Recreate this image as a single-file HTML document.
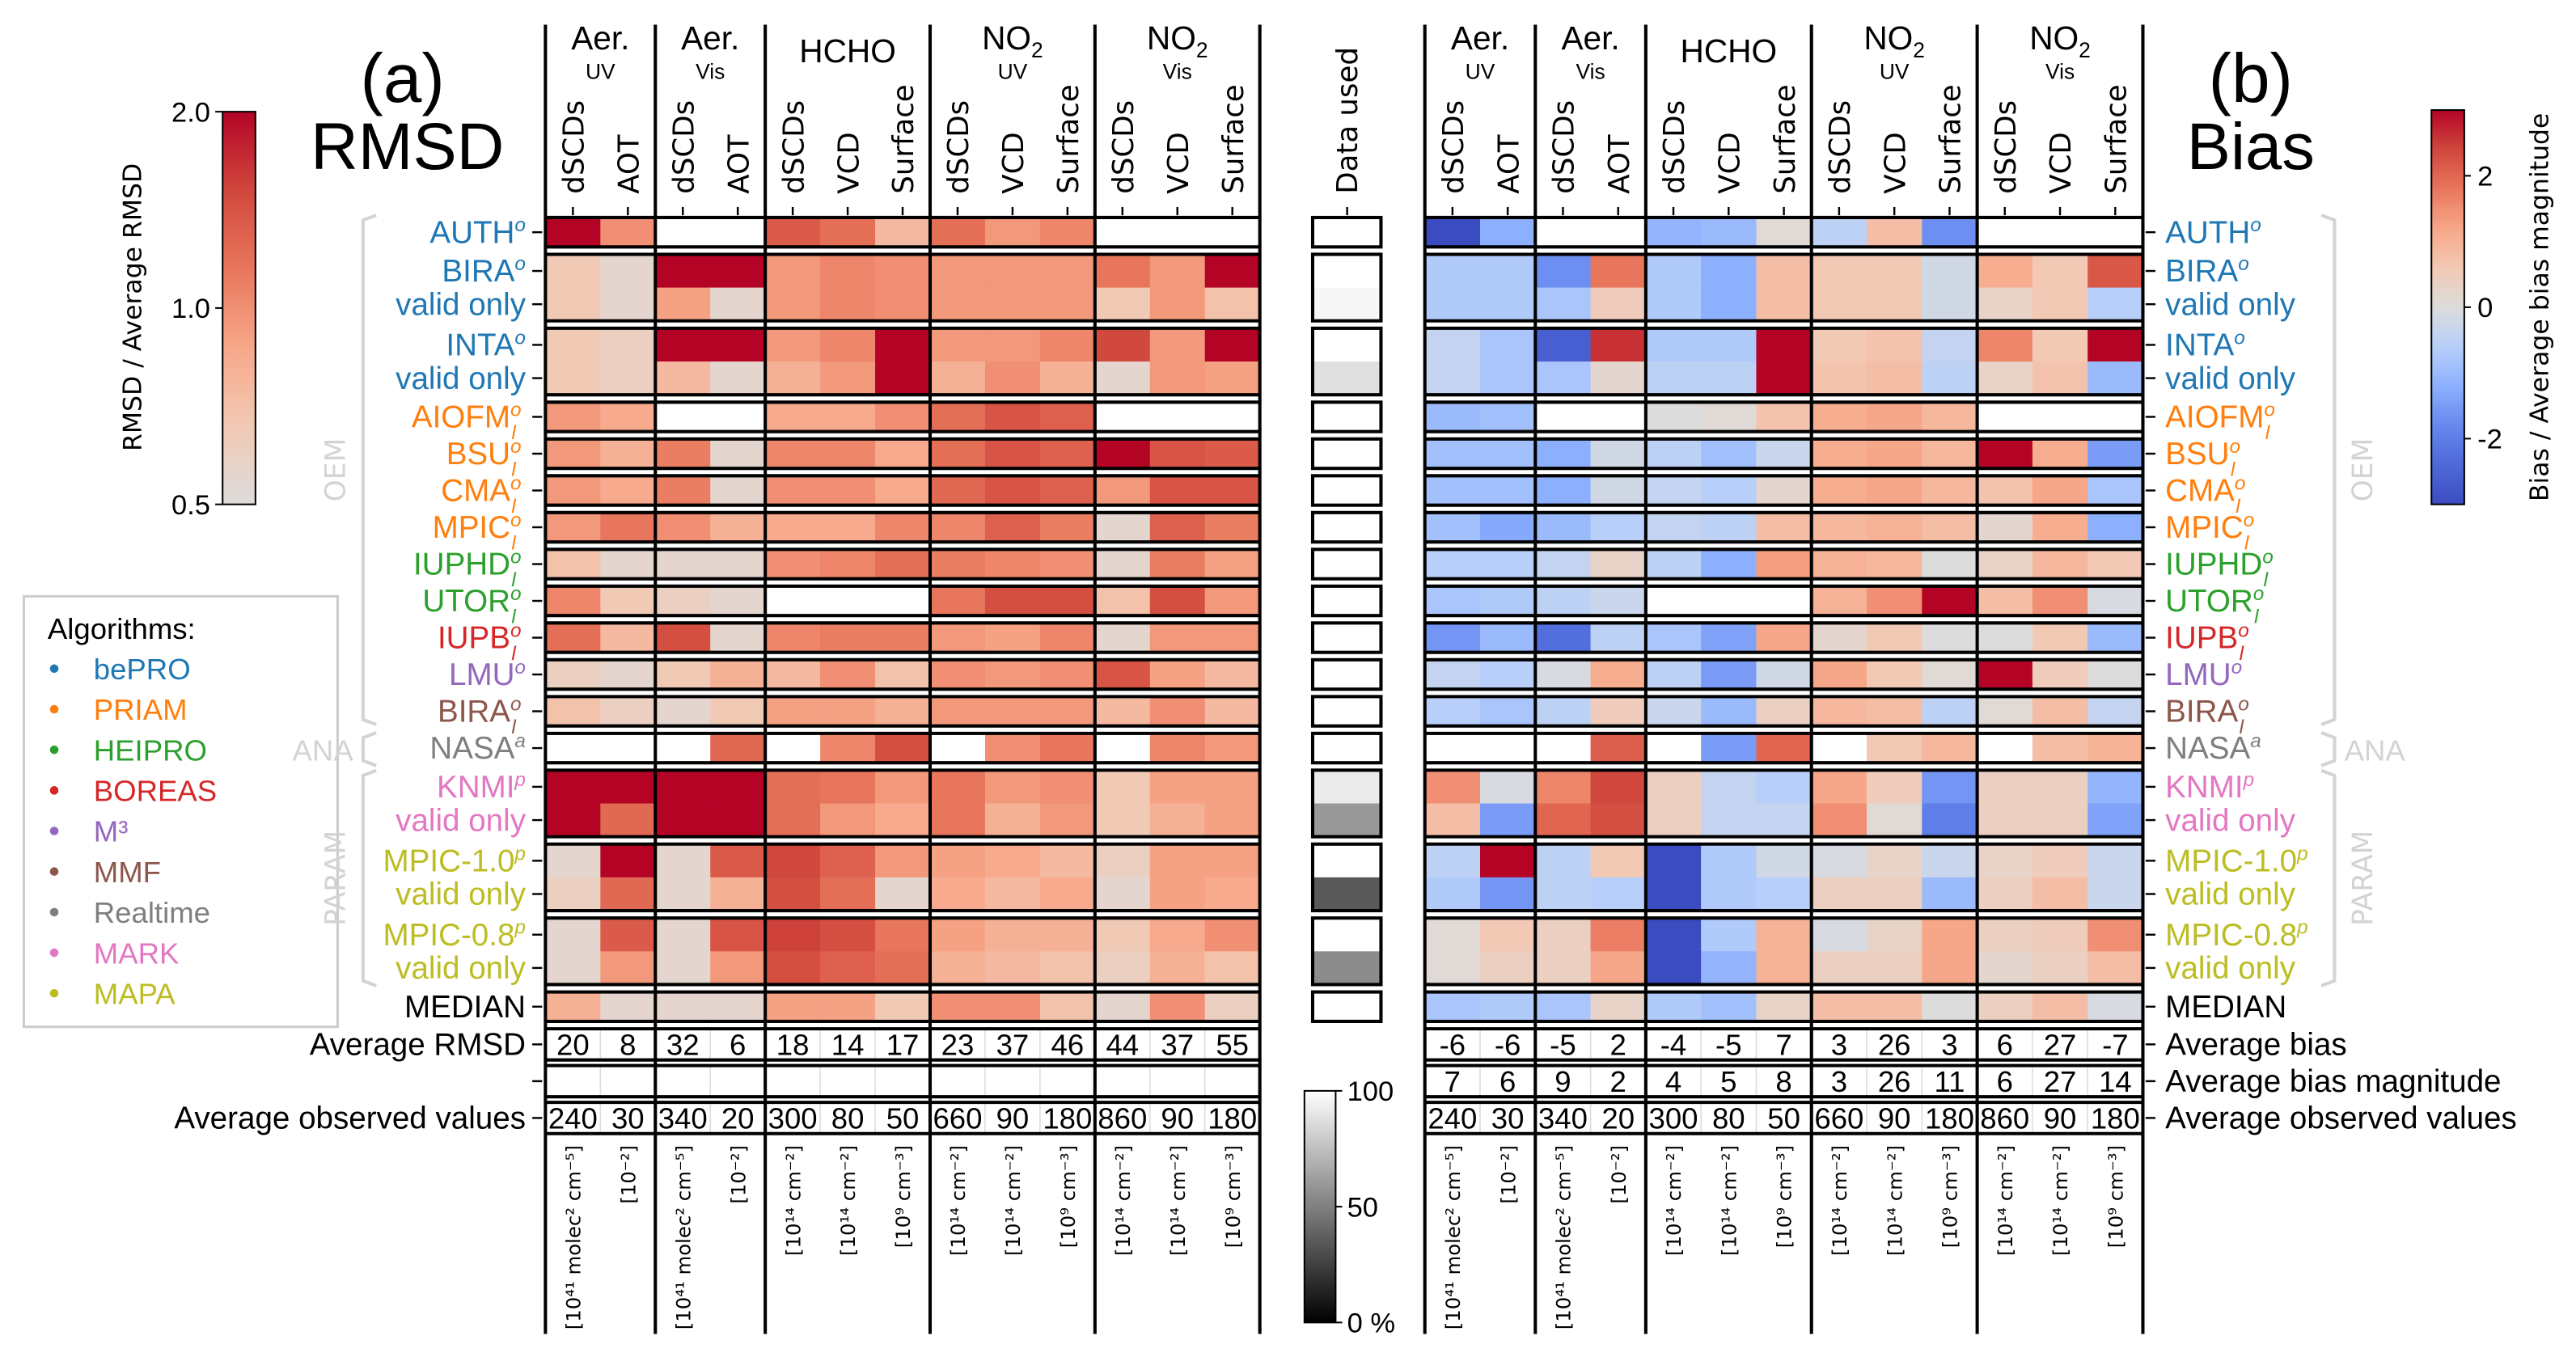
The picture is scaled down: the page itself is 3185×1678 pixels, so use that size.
<!DOCTYPE html>
<html><head><meta charset="utf-8"><style>
html,body{margin:0;padding:0;background:#fff;}
svg{display:block;}
text{font-family:"Liberation Sans Narrow","Liberation Sans",sans-serif;}
.dj{font-family:"DejaVu Sans","Liberation Sans",sans-serif;}
</style></head><body>
<svg id="chart" width="3185" height="1678" viewBox="0 0 1568 826" preserveAspectRatio="none" xmlns="http://www.w3.org/2000/svg"></svg>
<script>
// ---- data ----
const columns = ['dSCDs','AOT','dSCDs','AOT','dSCDs','VCD','Surface','dSCDs','VCD','Surface','dSCDs','VCD','Surface'];
const groupNames = ['Aer.','Aer.','HCHO','NO2','NO2'];
const groupSubs = ['UV','Vis','','UV','Vis'];
const groupStarts = [0,2,4,7,10,13];
const units = ['[10⁴¹ molec² cm⁻⁵]','[10⁻²]','[10⁴¹ molec² cm⁻⁵]','[10⁻²]','[10¹⁴ cm⁻²]','[10¹⁴ cm⁻²]','[10⁹ cm⁻³]','[10¹⁴ cm⁻²]','[10¹⁴ cm⁻²]','[10⁹ cm⁻³]','[10¹⁴ cm⁻²]','[10¹⁴ cm⁻²]','[10⁹ cm⁻³]'];
const rowNames = ['AUTH','BIRA','valid only','INTA','valid only','AIOFM','BSU','CMA','MPIC','IUPHD','UTOR','IUPB','LMU','BIRA','NASA','KNMI','valid only','MPIC-1.0','valid only','MPIC-0.8','valid only','MEDIAN'];
const rowSup = ['o','o','','o','','o','o','o','o','o','o','o','o','o','a','p','','p','','p','',''];
const rowSub = ['','','','','','l','l','l','l','l','l','l','','l','','','','','','','',''];
const rowColors = ['#1f77b4','#1f77b4','#1f77b4','#1f77b4','#1f77b4','#ff7f0e','#ff7f0e','#ff7f0e','#ff7f0e','#2ca02c','#2ca02c','#d62728','#9467bd','#8c564b','#7f7f7f','#e377c2','#e377c2','#bcbd22','#bcbd22','#bcbd22','#bcbd22','#000000'];
const blockSizes = [1,2,2,1,1,1,1,1,1,1,1,1,1,2,2,2,1];
const N = null;
const rmsd = [
[2.0,1.0,N,N,1.35,1.2,0.75,1.2,0.95,1.05,N,N,N],
[0.65,0.55,2,2,0.95,1.05,1.0,0.95,0.95,0.95,1.15,0.95,2],
[0.65,0.55,0.9,0.55,0.95,1.05,1.0,0.95,0.95,0.95,0.65,0.95,0.7],
[0.65,0.6,2,2,0.95,1.05,2,0.95,0.95,1.05,1.5,0.95,2],
[0.65,0.6,0.75,0.55,0.8,0.95,2,0.8,1.0,0.8,0.55,0.95,0.9],
[0.95,0.85,N,N,0.85,0.85,1.0,1.2,1.4,1.3,N,N,N],
[0.95,0.8,1.1,0.55,1.05,1.05,0.85,1.2,1.4,1.3,2,1.4,1.35],
[0.95,0.85,1.1,0.55,1.0,1.0,0.85,1.25,1.4,1.3,0.95,1.4,1.4],
[0.95,1.15,1.0,0.8,0.85,0.85,1.05,1.05,1.3,1.1,0.55,1.3,1.1],
[0.7,0.55,0.55,0.55,1.0,1.05,1.2,1.1,1.05,1.0,0.55,1.1,0.9],
[1.05,0.65,0.6,0.55,N,N,N,1.15,1.45,1.45,0.7,1.45,0.95],
[1.2,0.75,1.45,0.55,1.05,1.1,1.1,0.95,0.9,1.05,0.55,0.95,0.95],
[0.6,0.55,0.65,0.8,0.75,1.0,0.7,1.0,0.95,1.0,1.4,0.9,0.75],
[0.7,0.6,0.55,0.65,0.9,0.9,0.8,0.95,0.95,0.95,0.75,1.0,0.75],
[N,N,N,1.25,N,1.05,1.45,N,1.0,1.15,N,1.05,0.95],
[2,2,2,2,1.2,1.15,0.95,1.15,0.95,1.0,0.65,0.9,0.9],
[2,1.25,2,2,1.2,0.95,0.85,1.15,0.8,0.95,0.65,0.8,0.9],
[0.55,2,0.55,1.35,1.5,1.3,0.95,0.9,0.85,0.75,0.6,0.9,0.9],
[0.6,1.25,0.55,0.8,1.45,1.2,0.55,0.85,0.75,0.85,0.55,0.9,0.85],
[0.55,1.35,0.55,1.4,1.55,1.45,1.15,0.9,0.8,0.8,0.65,0.85,1.0],
[0.55,0.95,0.55,0.95,1.45,1.3,1.2,0.8,0.75,0.7,0.6,0.8,0.7],
[0.8,0.55,0.55,0.55,0.9,0.9,0.65,1.0,1.0,0.7,0.55,1.0,0.6]];
const bias = [
[-3,-1.2,N,N,-1.1,-1.0,0.1,-0.5,0.8,-1.7,N,N,N],
[-0.7,-0.7,-1.7,1.8,-0.7,-1.2,0.8,0.6,0.6,-0.2,1.1,0.6,2.2],
[-0.7,-0.7,-0.8,0.5,-0.7,-1.2,0.8,0.6,0.6,-0.2,0.3,0.6,-0.6],
[-0.4,-0.8,-2.6,2.6,-0.7,-0.7,3,0.6,0.7,-0.4,1.6,0.6,3],
[-0.4,-0.8,-0.8,0.2,-0.5,-0.5,3,0.7,0.8,-0.5,0.3,0.7,-1.0],
[-1.0,-0.9,N,N,0,0.1,0.7,1.1,1.2,0.9,N,N,N],
[-0.9,-0.9,-1.2,-0.2,-0.5,-0.9,-0.3,1.1,1.2,0.9,3,1.1,-1.5],
[-0.9,-0.9,-1.2,-0.2,-0.4,-0.6,0.2,1.1,1.2,0.9,0.7,1.2,-0.8],
[-0.9,-1.3,-1.0,-0.6,-0.4,-0.5,0.8,0.9,1.0,0.8,0.2,1.1,-1.2],
[-0.6,-0.6,-0.4,0.3,-0.5,-1.2,1.3,1.0,0.9,0,0.3,0.9,0.6],
[-0.8,-0.7,-0.5,-0.3,N,N,N,1.0,1.5,3,0.8,1.5,-0.1],
[-1.6,-1.0,-2.3,-0.5,-0.8,-1.4,1.2,0.2,0.6,0,0,0.6,-1.0],
[-0.4,-0.6,-0.1,1.1,-0.5,-1.5,-0.2,1.2,0.6,0.1,3,0.5,0],
[-0.6,-0.8,-0.5,0.5,-0.3,-1.0,0.4,0.9,0.8,-0.5,0.1,0.8,-0.4],
[N,N,N,2.1,N,-1.5,2.0,N,0.6,0.9,N,0.8,1.0],
[1.5,-0.1,1.6,2.4,0.4,-0.4,-0.6,1.2,0.5,-1.6,0.4,0.4,-1.1],
[0.8,-1.5,2.0,2.3,0.4,-0.4,-0.4,1.5,0.1,-2.0,0.4,0.4,-1.4],
[-0.5,3,-0.5,0.6,-3,-0.7,-0.2,-0.1,0.3,-0.3,0.3,0.5,-0.3],
[-0.7,-1.6,-0.5,-0.6,-3,-0.7,-0.6,0.4,0.4,-1.0,0.4,0.8,-0.3],
[0.1,0.6,0.4,1.7,-3,-0.7,1.0,-0.1,0.3,1.2,0.4,0.5,1.5],
[0.1,0.4,0.4,1.2,-3,-1.1,1.0,0.4,0.4,1.2,0.2,0.4,0.8],
[-0.8,-0.7,-0.8,0.3,-0.7,-0.9,0.3,0.8,0.8,0,0.4,0.8,-0.1]];
const dataUsed = [100,100,97,100,88,100,100,100,100,100,100,100,100,100,100,92,60,100,35,100,55,100];
const avgRmsd = [20,8,32,6,18,14,17,23,37,46,44,37,55];
const avgBias = [-6,-6,-5,2,-4,-5,7,3,26,3,6,27,-7];
const avgBiasMag = [7,6,9,2,4,5,8,3,26,11,6,27,14];
const avgObs = [240,30,340,20,300,80,50,660,90,180,860,90,180];
const legendNames = ['bePRO','PRIAM','HEIPRO','BOREAS','M³','MMF','Realtime','MARK','MAPA'];
const legendColors = ['#1f77b4','#ff7f0e','#2ca02c','#d62728','#9467bd','#8c564b','#7f7f7f','#e377c2','#bcbd22'];

// ---- helpers ----
const svg = document.getElementById('chart');
const NS = 'http://www.w3.org/2000/svg';
function mk(tag, attrs, parent){const e=document.createElementNS(NS,tag);for(const k in attrs)e.setAttribute(k,attrs[k]);(parent||svg).appendChild(e);return e;}
const stops=[[0,[59,76,192]],[0.1,[79,105,217]],[0.2,[103,136,238]],[0.3,[141,176,254]],[0.4,[183,207,249]],[0.5,[221,220,220]],[0.6,[242,201,180]],[0.7,[247,167,137]],[0.8,[232,118,92]],[0.9,[208,71,61]],[1,[180,4,38]]];
function cw(t){t=Math.max(0,Math.min(1,t));for(let i=1;i<stops.length;i++){if(t<=stops[i][0]){const a=stops[i-1],b=stops[i],f=(t-a[0])/(b[0]-a[0]);return 'rgb('+a[1].map((v,j)=>Math.round(v+(b[1][j]-v)*f)).join(',')+')';}}return 'rgb(180,4,38)';}
function rmsdColor(v){const t=(Math.log2(v)+1)/2;return cw(0.5+0.5*t);}
function biasColor(v){return cw((v+3)/6);}
const colW=33.45, colWR=33.62;
const leftX0=332, rightX0=867.3;
// block layout
const rowY=[],rowH=[],blockTop=[],blockH=[];
{let y=132.4;for(const s of blockSizes){const h=s===1?17.9:40.5;blockTop.push(y);blockH.push(h);for(let k=0;k<s;k++){rowY.push(y+k*(h/s));rowH.push(h/s);}y+=h+4.5;}}
const statTops=[626.2,648.6,671];

function drawPanel(x0, cw_, values, colorFn, name){
  const x=i=>x0+i*cw_;
  const g=mk('g',{});
  
  
  for(let r=0;r<values.length;r++){
    for(let c=0;c<13;c++){
      const v=values[r][c];
      const rc=mk('rect',{x:x(c),y:rowY[r],width:cw_+0.4,height:rowH[r]+0.3,fill:v===null?'#ffffff':colorFn(v)},g);
      
      
    }
  }
  for(let b=0;b<blockTop.length;b++){
    mk('line',{x1:x0,x2:x(13),y1:blockTop[b],y2:blockTop[b],stroke:'#000','stroke-width':2},g);
    mk('line',{x1:x0,x2:x(13),y1:blockTop[b]+blockH[b],y2:blockTop[b]+blockH[b],stroke:'#000','stroke-width':2},g);
  }
  const statSets = name==='rmsd'?[avgRmsd,null,avgObs]:[avgBias,avgBiasMag,avgObs];
  statSets.forEach((arr,k)=>{
    const y=statTops[k];
    for(let c=1;c<13;c++) mk('line',{x1:x(c),x2:x(c),y1:y,y2:y+19,stroke:'#ddd','stroke-width':0.8},g);
    mk('line',{x1:x0,x2:x(13),y1:y,y2:y,stroke:'#000','stroke-width':2},g);
    mk('line',{x1:x0,x2:x(13),y1:y+19,y2:y+19,stroke:'#000','stroke-width':2},g);
    if(arr) arr.forEach((v,c)=>{
      const t=mk('text',{x:x(c)+cw_/2,y:y+16,'text-anchor':'middle','font-size':18,fill:'#000'},g);
      t.textContent=v;
      
      
    });
  });
  groupStarts.forEach(gs=>mk('line',{x1:x(gs),x2:x(gs),y1:15,y2:812,stroke:'#000','stroke-width':2},g));
  for(let k=0;k<5;k++){
    const cx=(x(groupStarts[k])+x(groupStarts[k+1]))/2;
    const isNO2=groupNames[k]==='NO2';
    const t=mk('text',{x:cx,y:groupSubs[k]?30:38,'text-anchor':'middle','font-size':20,fill:'#000'},g);
    
    
    if(isNO2){t.textContent='NO';const s=mk('tspan',{'font-size':13,dy:5},t);s.textContent='2';}
    else t.textContent=groupNames[k];
    if(groupSubs[k]){const s=mk('text',{x:cx,y:48,'text-anchor':'middle','font-size':13,fill:'#000'},g);s.textContent=groupSubs[k];
      
      }
  }
  columns.forEach((cname,c)=>{
    const cx=x(c)+cw_/2;
    const t=mk('text',{class:'dj',x:0,y:0,'font-size':17.5,transform:`translate(${cx+6.5},118) rotate(-90)`,fill:'#000'},g);
    t.textContent=cname;
    
    
    mk('line',{x1:cx,x2:cx,y1:126,y2:131,stroke:'#000','stroke-width':1.2},g);
    const u=mk('text',{class:'dj',x:0,y:0,'font-size':12,'text-anchor':'end',transform:`translate(${cx+4.5},697) rotate(-90)`,fill:'#000'},g);
    u.textContent=units[c];
    
    
  });
}
drawPanel(leftX0,colW,rmsd,rmsdColor,'rmsd');
drawPanel(rightX0,colWR,bias,biasColor,'bias');

function rowLabel(xEdge, anchorRight, r){
  const cy=rowY[r]+rowH[r]/2+6.5;
  const t=mk('text',{x:0,y:cy,'font-size':19,fill:rowColors[r]});
  
  
  t.textContent=rowNames[r];
  if(rowSup[r]){const s=mk('tspan',{'font-size':12,dy:-7,'font-style':'italic'},t);s.textContent=rowSup[r];}
  if(rowSub[r]){const s=mk('tspan',{'font-size':12,dx:-6,dy:14,'font-style':'italic'},t);s.textContent=rowSub[r];}
  const w=t.getComputedTextLength();
  t.setAttribute('x', anchorRight? xEdge-w : xEdge);
  const tx=anchorRight?xEdge+4:xEdge-12;
  mk('line',{x1:tx,x2:tx+6,y1:rowY[r]+rowH[r]/2,y2:rowY[r]+rowH[r]/2,stroke:'#000','stroke-width':1.2});
}
for(let r=0;r<rowNames.length;r++){rowLabel(320,true,r);rowLabel(1318,false,r);}
[['Average RMSD','Average bias'],['','Average bias magnitude'],['Average observed values','Average observed values']].forEach((p,k)=>{
  const cy=statTops[k]+9.5;
  const a=mk('text',{x:320,y:cy+6.5,'text-anchor':'end','font-size':19,fill:'#000'});a.textContent=p[0];
  
  
  mk('line',{x1:324,x2:330,y1:cy,y2:cy,stroke:'#000','stroke-width':1.2});
  const b=mk('text',{x:1318,y:cy+6.5,'font-size':19,fill:'#000'});b.textContent=p[1];
  
  
  mk('line',{x1:1306,x2:1312,y1:cy,y2:cy,stroke:'#000','stroke-width':1.2});
});

dataUsed.forEach((v,r)=>{
  const g=Math.round(v*2.55);
  const rc=mk('rect',{x:799,y:rowY[r],width:41.6,height:rowH[r],fill:`rgb(${g},${g},${g})`});
  
  
});
blockTop.forEach((y,b)=>mk('rect',{x:799,y:y,width:41.6,height:blockH[b],fill:'none',stroke:'#000','stroke-width':2}));
{const t=mk('text',{class:'dj',x:0,y:0,'font-size':17.5,transform:'translate(826,118) rotate(-90)',fill:'#000'});t.textContent='Data used';


mk('line',{x1:820,x2:820,y1:126,y2:131,stroke:'#000','stroke-width':1.2});}

[['(a)',245,62,42],['RMSD',248,103,40],['(b)',1370,62,42],['Bias',1370,103,40]].forEach(p=>{
  const t=mk('text',{x:p[1],y:p[2],'text-anchor':'middle','font-size':p[3],fill:'#000'});t.textContent=p[0];
  
  
});

const defs=mk('defs',{});
function grad(id,fn){const lg=mk('linearGradient',{id,x1:0,y1:1,x2:0,y2:0},defs);for(let i=0;i<=20;i++){mk('stop',{offset:i/20,'stop-color':fn(i/20)},lg);}}
grad('gR',t=>cw(0.5+0.5*t));grad('gB',t=>cw(t));grad('gG',t=>{const g=Math.round(t*255);return `rgb(${g},${g},${g})`;});
{const r=mk('rect',{x:135.5,y:68,width:20,height:239,fill:'url(#gR)',stroke:'#000','stroke-width':1});


[['2.0',68],['1.0',187.5],['0.5',307]].forEach(p=>{mk('line',{x1:131,x2:135.5,y1:p[1],y2:p[1],stroke:'#000'});const t=mk('text',{x:128,y:p[1]+6,'text-anchor':'end','font-size':17,fill:'#000'});t.textContent=p[0];});
const l=mk('text',{class:'dj',x:0,y:0,'font-size':15.5,'text-anchor':'middle',transform:'translate(86,187) rotate(-90)',fill:'#000'});l.textContent='RMSD / Average RMSD';

}
{const r=mk('rect',{x:1480,y:67,width:20,height:240,fill:'url(#gB)',stroke:'#000','stroke-width':1});


[['2',107],['0',187],['-2',267]].forEach(p=>{mk('line',{x1:1500,x2:1504,y1:p[1],y2:p[1],stroke:'#000'});const t=mk('text',{x:1508,y:p[1]+6,'font-size':17,fill:'#000'});t.textContent=p[0];});
const l=mk('text',{class:'dj',x:0,y:0,'font-size':15.5,'text-anchor':'middle',transform:'translate(1551,187) rotate(-90)',fill:'#000'});l.textContent='Bias / Average bias magnitude';

}
{const r=mk('rect',{x:794,y:664,width:19,height:141,fill:'url(#gG)',stroke:'#000','stroke-width':1});


[['100',664],['50',734.5],['0 %',805]].forEach(p=>{mk('line',{x1:813,x2:817,y1:p[1],y2:p[1],stroke:'#000'});const t=mk('text',{x:820,y:p[1]+6,'font-size':17,fill:'#000'});t.textContent=p[0];});}

{const g=mk('g',{});


mk('rect',{x:14.5,y:363,width:191,height:262,fill:'#fff',stroke:'#ccc','stroke-width':1.5},g);
const t=mk('text',{x:29,y:389,'font-size':18,fill:'#000'},g);t.textContent='Algorithms:';
legendNames.forEach((n,i)=>{const y=407+i*24.7;mk('circle',{cx:33,cy:y,r:2.6,fill:legendColors[i]},g);
const e=mk('text',{x:57,y:y+6.5,'font-size':18,fill:legendColors[i]},g);e.textContent=n;

});}

function bracket(x,y1,y2,dir,label,rotate){
  mk('path',{d:`M${x+dir*8},${y1} L${x},${y1+3} L${x},${y2-3} L${x+dir*8},${y2}`,fill:'none',stroke:'#d3d3d3','stroke-width':2});
  const cy=(y1+y2)/2, lx=x-dir*11;
  const t=rotate?mk('text',{class:'dj',x:0,y:0,'font-size':17,'text-anchor':'middle',fill:'#d3d3d3',transform:`translate(${lx+(dir>0?0:12)},${cy}) rotate(-90)`}):mk('text',{x:dir>0?x-6:x+6,y:cy+7,'font-size':18,'text-anchor':dir>0?'end':'start',fill:'#d3d3d3'});
  t.textContent=label;
  
  
}
bracket(221,131,441,1,'OEM',true);bracket(221,446,466,1,'ANA',false);bracket(221,469,600,1,'PARAM',true);
bracket(1421,131,441,-1,'OEM',true);bracket(1421,446,466,-1,'ANA',false);bracket(1421,469,600,-1,'PARAM',true);
</script>
</body></html>
